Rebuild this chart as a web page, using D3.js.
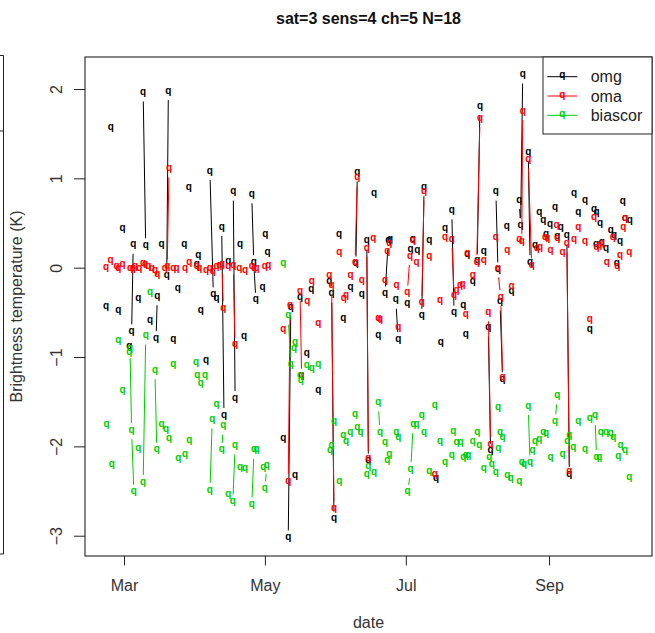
<!DOCTYPE html>
<html><head><meta charset="utf-8">
<script src="https://cdn.jsdelivr.net/npm/d3@7"></script>
<style>
body{margin:0;background:#fff}
svg{display:block}
text{font-family:"Liberation Sans",Arial,Helvetica,sans-serif}
</style>
</head><body>
<svg id="c" width="655" height="633"></svg>
<script>
const title = "sat=3 sens=4 ch=5 N=18";
const xLabel = "date";
const yLabel = "Brightness temperature (K)";
const yTicks = [-3, -2, -1, 0, 1, 2];
const xTickDates = ["2015-03-01", "2015-05-01", "2015-07-01", "2015-09-01"];
const xTickLabels = ["Mar", "May", "Jul", "Sep"];
const seriesNames = ["omg", "oma", "biascor"];

// [days since 2015-03-01, value]
const omg = [
[-7.8,-0.45],[-5.7,1.555],[-2.5,-0.49],[-0.6,0.425],[2.3,-0.89],[3.3,-0.725],[4.0,0.245],[6.2,-0.35],[8.3,1.95],[9.4,0.24],
[11.3,-0.60],[13.9,-0.80],[14.4,-0.33],[16.3,0.25],[18.5,-0.10],[19.2,1.965],[21.3,-0.815],[23.3,-0.24],[26.1,0.25],[28.1,0.89],
[31.5,0.02],[32.2,0.125],[33.2,-0.49],[35.5,-1.05],[37.2,1.07],[38.7,-0.31],[40.1,-0.35],[42.3,0.445],[43.3,-1.66],[45.2,0.06],
[47.3,0.84],[48.1,-1.47],[50.2,0.245],[52.0,-0.78],[55.3,0.81],[56.2,0.05],[57.1,-0.37],[60.0,-0.23],[61.2,0.36],[62.2,0.157],
[69.0,-1.92],[71.1,-3.03],[72.2,-0.46],[74.0,-2.34],[76.2,-0.34],[79.1,-0.975],[81.1,-0.255],[84.1,-1.39],[88.9,-0.17],[89.9,-0.30],
[90.9,-2.82],[93.1,0.36],[94.9,-0.58],[98.1,-0.23],[100.4,0.035],[101.0,1.055],[102.9,-0.31],[105.1,0.29],[105.8,-2.17],[108.2,0.82],
[110.1,-0.77],[113.0,-0.30],[114.4,0.295],[115.2,0.31],[117.7,-0.37],[118.7,-0.81],[122.6,-0.41],[124.1,0.19],[125.0,0.31],[127.0,0.18],
[128.9,-0.55],[129.9,0.89],[132.2,0.295],[135.1,-2.37],[137.1,-0.85],[139.0,0.425],[141.9,0.63],[142.9,-0.515],[146.9,-0.43],[148.0,-0.76],
[148.6,0.135],[151.0,-0.17],[152.9,0.065],[154.1,1.79],[155.8,0.17],[157.7,-0.68],[158.7,-2.06],[161.0,0.84],[161.9,-0.03],[162.8,-0.39],
[163.9,-1.26],[165.7,0.455],[167.8,-0.28],[171.1,0.745],[171.7,0.465],[172.6,2.15],[175.0,1.28],[175.8,0.05],[177.9,0.24],[179.8,0.605],
[181.5,0.52],[182.7,0.36],[184.4,0.475],[186.6,0.66],[187.6,0.34],[189.1,0.445],[191.7,0.35],[192.8,-2.32],[194.8,0.82],[196.7,0.61],
[199.6,0.745],[201.7,-0.70],[203.5,0.64],[204.3,0.245],[204.6,0.61],[206.1,0.48],[206.8,0.27],[208.7,0.21],[210.7,0.41],[212.1,0.345],
[213.3,0.035],[214.7,0.28],[215.9,0.73],[216.9,0.545],[219.0,0.52]
];
const omgJoin = [3.3,8.3,13.9,18.5,37.2,42.3,47.3,55.3,56.2,71.1,89.9,100.4,105.1,113.0,117.7,128.9,141.9,152.9,157.7,161.0,162.8,171.1,171.7,175.0,191.7];

const oma = [
[-7.8,-0.01],[-5.8,0.07],[-3.2,0.0],[-2.5,-0.015],[-0.6,0.02],[2.6,-0.02],[3.8,-0.015],[4.8,0.0],[6.6,-0.015],[8.3,0.035],
[9.1,0.02],[10.5,0.0],[12.0,-0.015],[13.4,-0.04],[14.4,-0.09],[17.7,-0.015],[18.7,0.0],[19.5,1.10],[21.3,-0.02],[22.8,-0.02],
[26.4,-0.015],[28.3,0.045],[31.5,0.0],[32.6,-0.02],[35.5,-0.04],[37.2,-0.015],[38.4,-0.05],[40.1,0.0],[41.3,0.01],[42.5,0.02],
[43.0,-0.465],[45.2,0.0],[47.3,0.015],[48.1,-0.875],[49.9,-0.015],[52.4,-0.04],[55.3,0.0],[56.3,-0.015],[57.4,-0.02],[61.0,0.0],
[62.5,0.01],[69.0,-0.70],[71.1,-2.40],[71.9,-0.43],[76.2,-0.28],[76.9,-1.22],[79.4,-0.39],[81.3,-0.17],[84.1,-0.64],[88.9,-0.10],
[89.9,-0.21],[90.9,-2.705],[93.2,0.165],[95.2,-0.35],[96.1,-0.32],[98.1,-0.10],[100.0,0.05],[101.0,0.995],[102.9,-0.15],[105.1,0.21],
[105.8,-2.145],[107.9,0.32],[110.1,-0.58],[110.8,-0.59],[113.0,-0.15],[114.0,0.17],[114.9,0.26],[118.0,-0.21],[118.7,-0.675],[122.6,-0.29],
[123.8,0.12],[125.0,0.295],[126.7,0.045],[128.9,-0.40],[129.9,0.84],[132.2,0.12],[134.6,-2.33],[136.8,-0.38],[139.0,0.33],[141.9,0.31],
[142.9,-0.32],[144.0,-0.265],[145.5,-0.21],[146.6,-0.20],[148.0,-0.53],[148.6,0.145],[151.0,-0.10],[152.7,0.05],[154.1,1.66],[155.8,0.065],
[157.7,-0.51],[158.7,-1.985],[161.0,0.33],[161.8,-0.02],[163.1,-0.34],[163.9,-1.24],[165.9,0.185],[167.8,-0.22],[171.1,0.31],[172.2,0.285],
[172.6,1.74],[175.0,1.20],[176.5,0.015],[178.7,0.21],[180.1,0.22],[182.3,0.33],[183.3,0.32],[184.7,0.18],[187.3,0.46],[187.6,0.32],
[189.9,0.155],[191.7,0.26],[192.8,-2.295],[194.8,0.31],[196.7,0.445],[199.6,0.285],[201.7,-0.59],[203.5,0.555],[204.6,0.22],[205.8,0.24],
[206.8,0.26],[209.0,0.05],[211.6,0.33],[213.6,0.0],[214.7,0.13],[216.1,0.445],[216.9,0.54],[218.7,0.165]
];
const omaJoin = [18.7,42.5,47.3,71.1,76.2,89.9,100.0,105.1,122.6,128.9,141.9,152.7,157.7,161.8,163.1,172.2,175.0,191.7];

const biascor = [
[-7.5,-1.77],[-5.3,-2.21],[-2.5,-0.825],[-0.6,-1.39],[2.3,-0.96],[2.6,-0.92],[3.3,-1.83],[4.3,-2.52],[6.2,-2.03],[8.3,-2.41],
[9.4,-0.77],[11.3,-0.285],[13.4,-1.16],[14.2,-2.05],[16.3,-1.77],[18.2,-1.82],[19.5,-1.92],[21.3,-1.09],[23.5,-2.15],[26.4,-2.10],
[28.3,-1.94],[31.2,-1.07],[31.7,-1.22],[33.2,-1.31],[35.1,-1.22],[37.2,-2.50],[38.2,-1.71],[40.1,-1.54],[42.3,-2.05],[43.0,-1.78],
[45.2,-2.55],[47.1,-2.63],[48.1,-2.0],[50.2,-2.25],[52.4,-2.26],[55.3,-2.66],[56.3,-2.05],[57.4,-2.05],[60.3,-2.25],[61.0,-2.48],
[61.8,-2.22],[69.0,0.035],[71.1,-0.55],[72.2,-1.09],[73.6,-0.92],[74.0,-0.845],[76.2,-1.22],[76.5,-1.27],[79.1,-1.10],[81.3,-1.14],
[84.1,-1.09],[89.2,-2.06],[89.9,-2.0],[90.9,-1.73],[93.2,-2.40],[94.9,-1.89],[96.1,-1.96],[98.0,-1.85],[100.0,-1.65],[101.0,-1.80],
[102.4,-1.85],[105.1,-2.32],[105.8,-2.23],[108.2,-2.30],[110.1,-1.52],[110.8,-1.85],[113.0,-1.97],[114.0,-2.17],[114.9,-2.10],[117.9,-1.86],
[118.7,-1.91],[122.8,-2.52],[124.1,-2.265],[125.2,-1.76],[126.7,-1.76],[128.9,-1.67],[129.9,-1.85],[132.2,-2.295],[134.6,-1.555],[136.8,-1.95],
[139.0,-2.19],[141.9,-2.11],[142.6,-1.84],[144.0,-1.97],[145.8,-1.97],[146.9,-2.13],[148.0,-2.115],[149.0,-2.11],[151.0,-1.95],[152.9,-1.85],
[153.8,-2.0],[155.8,-2.26],[158.1,-2.13],[159.2,-2.21],[161.0,-2.30],[161.9,-1.57],[162.0,-2.03],[162.8,-1.85],[163.9,-1.91],[165.9,-2.34],
[167.4,-2.37],[171.1,-2.40],[172.2,-2.19],[173.2,-2.21],[175.0,-1.56],[175.8,-2.19],[176.9,-2.06],[177.9,-1.96],[179.8,-1.93],[181.5,-1.85],
[182.7,-1.87],[184.7,-2.13],[186.6,-1.73],[187.6,-1.44],[189.9,-2.10],[191.9,-1.96],[192.8,-1.89],[194.5,-2.02],[196.7,-1.73],[199.6,-2.05],
[201.7,-1.70],[203.9,-1.67],[204.6,-2.13],[205.8,-2.13],[206.4,-1.85],[208.7,-1.85],[210.7,-1.87],[211.8,-1.91],[214.0,-2.12],[215.0,-2.0],
[216.9,-2.06],[218.7,-2.36]
];
const biascorJoin = [2.6,3.3,8.3,13.4,37.2,42.3,47.1,55.3,61.0,71.1,110.1,122.8,124.1,175.0,186.6,203.9];

const colors = ["#000000", "#ff0000", "#00cd00"];

const svg = d3.select("#c");
const DAY = 864e5, base = Date.UTC(2015, 2, 1);
const toDate = d => new Date(base + d * DAY);
const L = 85, R = 652, T = 57, B = 556;

const x = d3.scaleUtc().domain([toDate(-16.88), toDate(228.57)]).range([L, R]);
const y = d3.scaleLinear().domain([-3.227, 2.358]).range([B, T]);

// partial frame of neighbouring panel
svg.append("path").attr("d", "M0,55.5H3.5V554H0M0,131H3.5")
  .attr("fill", "none").attr("stroke", "#222").attr("stroke-width", 1);

// axes
const fmt = d => (d < 0 ? "\u2212" + (-d) : String(d));
const gy = svg.append("g").attr("transform", `translate(${L},0)`)
  .call(d3.axisLeft(y).tickValues(yTicks).tickFormat(fmt).tickSize(11).tickSizeOuter(0));
gy.select(".domain").remove();
gy.selectAll("line").attr("stroke", "#222");
gy.selectAll("text").attr("x", null).attr("dy", null)
  .attr("transform", "translate(-23.3,0) rotate(-90)")
  .attr("text-anchor", "middle").attr("fill", "#333").style("font-size", "16px")
  .style("font-family", '"Liberation Sans",Arial,sans-serif');

const gx = svg.append("g").attr("transform", `translate(0,${B})`)
  .call(d3.axisBottom(x).tickValues(xTickDates.map(s => new Date(s + "T00:00:00Z")))
    .tickFormat((d, i) => xTickLabels[i]).tickSize(9.5).tickPadding(14).tickSizeOuter(0));
gx.select(".domain").remove();
gx.selectAll("line").attr("stroke", "#222");
gx.selectAll("text").attr("fill", "#333").style("font-size", "16px")
  .style("font-family", '"Liberation Sans",Arial,sans-serif');

// frame
svg.append("rect").attr("x", L).attr("y", T).attr("width", R - L).attr("height", B - T)
  .attr("fill", "none").attr("stroke", "#222").attr("stroke-width", 1.1);

// labels
svg.append("text").attr("x", (L + R) / 2).attr("y", 23.5).attr("text-anchor", "middle")
  .style("font-size", "16px").style("font-weight", "bold").attr("fill", "#111").text(title);
svg.append("text").attr("x", (L + R) / 2).attr("y", 628).attr("text-anchor", "middle")
  .style("font-size", "16px").attr("fill", "#333").text(xLabel);
svg.append("text").attr("transform", `translate(21.5,${(T + B) / 2}) rotate(-90)`)
  .attr("text-anchor", "middle").style("font-size", "16px").attr("fill", "#333").text(yLabel);

// series (type "b": lines with gaps + 'q' symbols)
const GAP = 8;
function gapSeg(p, q, g) {
  const dx = q[0] - p[0], dy = q[1] - p[1], len = Math.hypot(dx, dy);
  if (len <= 2 * g) return null;
  const ux = dx / len, uy = dy / len;
  return [p[0] + ux * g, p[1] + uy * g, q[0] - ux * g, q[1] - uy * g];
}
const series = [[omg, omgJoin], [oma, omaJoin], [biascor, biascorJoin]];
const plotG = svg.append("g");
series.forEach(([data, join], si) => {
  const js = new Set(join);
  const pts = data.map(d => [x(toDate(d[0])), y(d[1])]);
  const segs = [];
  data.forEach((d, i) => {
    if (js.has(d[0]) && i + 1 < data.length) {
      const s = gapSeg(pts[i], pts[i + 1], GAP);
      if (s) segs.push(s);
    }
  });
  plotG.append("g").selectAll("line").data(segs).join("line")
    .attr("x1", s => s[0]).attr("y1", s => s[1]).attr("x2", s => s[2]).attr("y2", s => s[3])
    .attr("stroke", colors[si]).attr("stroke-width", 1);
  plotG.append("g").selectAll("text").data(pts).join("text")
    .attr("x", p => p[0]).attr("y", p => p[1] + 1.6)
    .attr("text-anchor", "middle").style("font-size", "10px").style("font-weight", "bold")
    .attr("fill", colors[si]).text("q");
});

// legend
const lg = svg.append("g");
lg.append("rect").attr("x", 543).attr("y", T).attr("width", R - 543).attr("height", 77)
  .attr("fill", "#fff").attr("stroke", "#222").attr("stroke-width", 1);
const ly = [76.7, 96, 115.3];
seriesNames.forEach((n, i) => {
  lg.append("line").attr("x1", 547.3).attr("x2", 577.3).attr("y1", ly[i]).attr("y2", ly[i])
    .attr("stroke", colors[i]).attr("stroke-width", 1);
  lg.append("text").attr("x", 562.3).attr("y", ly[i] + 1.6).attr("text-anchor", "middle")
    .style("font-size", "10px").style("font-weight", "bold").attr("fill", colors[i]).text("q");
  lg.append("text").attr("x", 590.7).attr("y", ly[i] + 5.5).style("font-size", "16px")
    .attr("fill", "#222").text(n);
});
</script>
</body></html>
